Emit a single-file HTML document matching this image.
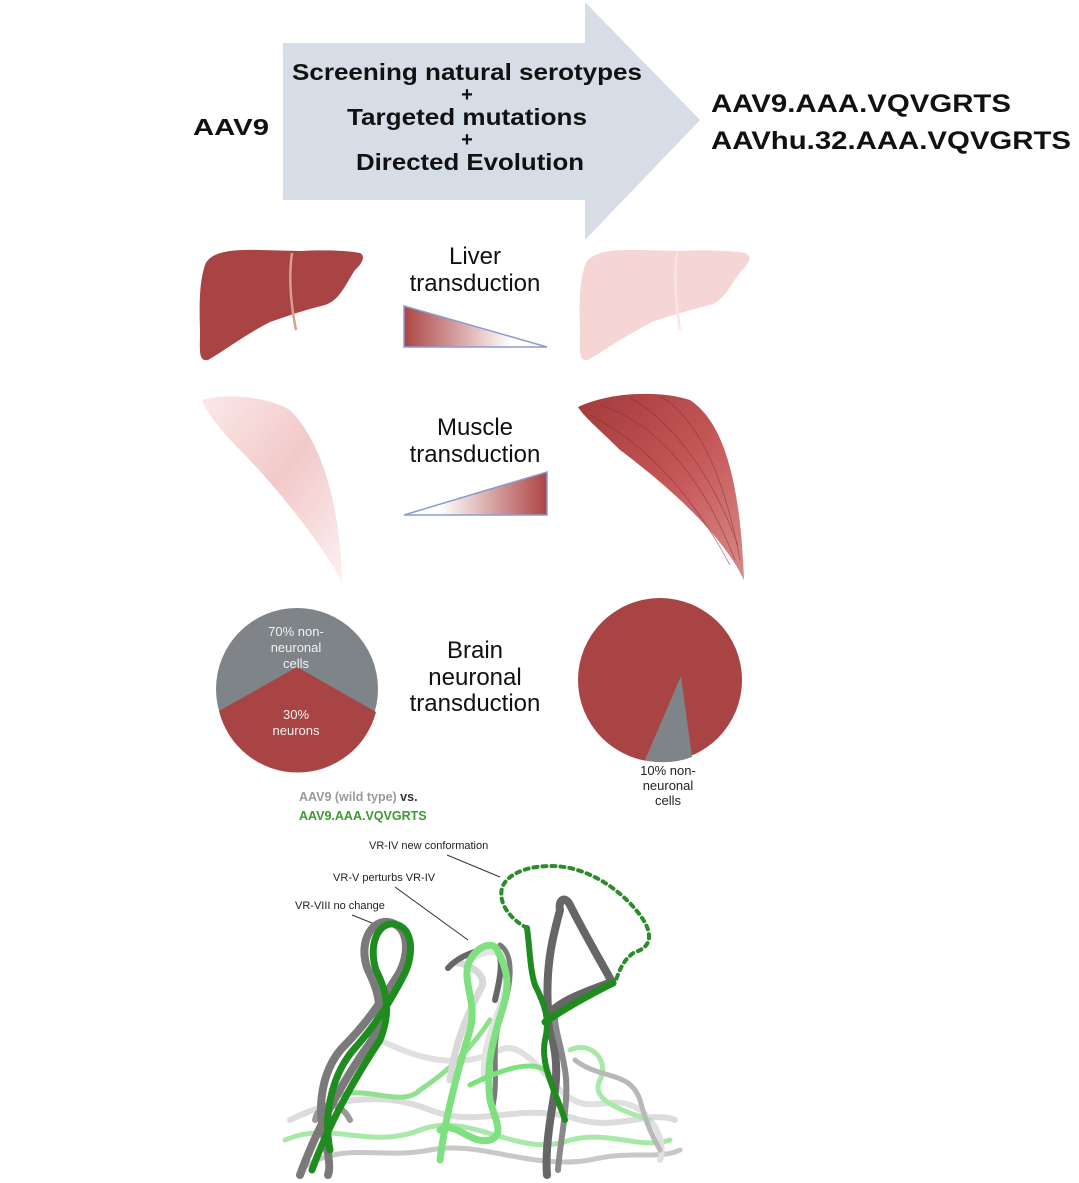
<!DOCTYPE html>
<html><head><meta charset="utf-8"><style>
html,body{margin:0;padding:0;background:#fff}
svg{display:block}
</style></head><body>
<svg width="1079" height="1183" viewBox="0 0 1079 1183" xmlns="http://www.w3.org/2000/svg" font-family="Liberation Sans, sans-serif">
<defs>
<linearGradient id="gl" x1="0" x2="1" y1="0" y2="0"><stop offset="0" stop-color="#ad4444"/><stop offset="0.75" stop-color="#fff"/></linearGradient>
<linearGradient id="gm" x1="1" x2="0" y1="0" y2="0"><stop offset="0" stop-color="#ad4444"/><stop offset="0.75" stop-color="#fff"/></linearGradient>
<linearGradient id="mp" x1="0" x2="1" y1="0" y2="1"><stop offset="0" stop-color="#fbe9e9"/><stop offset="0.5" stop-color="#f2c9c9"/><stop offset="1" stop-color="#fdf0f0"/></linearGradient>
<linearGradient id="md" x1="0" x2="1" y1="0" y2="1"><stop offset="0" stop-color="#a33a3a"/><stop offset="0.5" stop-color="#c45555"/><stop offset="1" stop-color="#d88a8a"/></linearGradient>
</defs>

<polygon points="283,43 585,43 585,2 700,120 585,240 585,200 283,200" fill="#d7dde7"/>
<g font-weight="bold" fill="#111" text-anchor="middle">
<text x="467" y="80" font-size="23" textLength="350" lengthAdjust="spacingAndGlyphs">Screening natural serotypes</text>
<text x="467" y="101" font-size="20">+</text>
<text x="467" y="125" font-size="23" textLength="240" lengthAdjust="spacingAndGlyphs">Targeted mutations</text>
<text x="467" y="146" font-size="20">+</text>
<text x="470" y="170" font-size="23" textLength="228" lengthAdjust="spacingAndGlyphs">Directed Evolution</text>
</g>
<text x="193" y="135" font-size="23" font-weight="bold" fill="#111" textLength="76" lengthAdjust="spacingAndGlyphs">AAV9</text>
<text x="711" y="112" font-size="25" font-weight="bold" fill="#111" textLength="300" lengthAdjust="spacingAndGlyphs">AAV9.AAA.VQVGRTS</text>
<text x="711" y="149" font-size="25" font-weight="bold" fill="#111" textLength="360" lengthAdjust="spacingAndGlyphs">AAVhu.32.AAA.VQVGRTS</text>

<!-- livers -->
<path d="M205,265 C210,252 230,249 260,250 L300,251 C320,250 345,250 360,253 C366,256 362,264 355,270 C345,285 340,300 325,305 C305,310 290,315 270,322 C245,335 225,350 208,360 C198,362 200,350 200,330 C199,300 200,280 205,265Z" fill="#a94444"/>
<path d="M292,253 C288,280 292,310 296,330" stroke="#d9a08a" stroke-width="2.5" fill="none"/>
<g transform="translate(380,0)">
<path d="M205,265 C210,252 230,249 260,250 L300,251 C320,250 345,250 365,253 C373,256 369,264 362,270 C350,285 345,300 330,305 C310,310 292,315 272,322 C247,335 225,350 208,360 C198,362 200,350 200,330 C199,300 200,280 205,265Z" fill="#f6d6d4"/>
<path d="M297,253 C293,280 297,310 300,330" stroke="#f9e6e4" stroke-width="2.5" fill="none"/>
</g>

<polygon points="404,306 547,347 404,347" fill="url(#gl)" stroke="#8b9bd0" stroke-width="1.5"/>
<g font-size="24" fill="#111" text-anchor="middle">
<text x="475" y="264">Liver</text>
<text x="475" y="291">transduction</text>
<text x="475" y="435">Muscle</text>
<text x="475" y="462">transduction</text>
<text x="475" y="658">Brain</text>
<text x="475" y="685">neuronal</text>
<text x="475" y="711">transduction</text>
</g>

<path d="M202,400 C230,392 270,398 290,410 C320,440 340,500 342,582 C320,540 270,480 240,450 C220,430 205,410 202,400 Z" fill="url(#mp)"/>
<path d="M578,407 C610,392 660,390 690,400 C720,420 740,470 744,580 C720,530 660,480 620,450 C600,430 585,418 578,407 Z" fill="url(#md)"/>
<g stroke="#8d2d2d" stroke-width="0.8" fill="none" opacity="0.6">
<path d="M600,405 C650,420 700,470 735,560"/><path d="M630,398 C670,420 710,470 738,545"/><path d="M660,396 C700,420 725,480 740,560"/><path d="M590,415 C640,440 690,490 730,565"/>
</g>
<polygon points="404,515 547,472 547,515" fill="url(#gm)" stroke="#8b9bd0" stroke-width="1.5"/>

<circle cx="297" cy="689" r="81" fill="#7e8488"/>
<path d="M219,711 L297,667 L376,712 A81,81 0 0 1 219,711 Z" fill="#a94444"/>
<g font-size="13" fill="#f2f2f2" text-anchor="middle">
<text x="296" y="636">70% non-</text><text x="296" y="652">neuronal</text><text x="296" y="668">cells</text>
<text x="296" y="719">30%</text><text x="296" y="735">neurons</text>
<text x="660" y="637">90%</text><text x="660" y="655">neurons</text>
</g>
<circle cx="660" cy="680" r="82" fill="#a94444"/>
<path d="M681,676 L692,757 A82,82 0 0 1 645,760 Z" fill="#7e8488"/>
<g font-size="13" fill="#222" text-anchor="middle">
<text x="668" y="775">10% non-</text><text x="668" y="790">neuronal</text><text x="668" y="805">cells</text>
</g>

<text x="299" y="801" font-size="12.5" font-weight="bold" fill="#9a9a9a">AAV9 (wild type) <tspan fill="#333">vs.</tspan></text>
<text x="299" y="820" font-size="12.5" font-weight="bold" fill="#3c9a30">AAV9.AAA.VQVGRTS</text>
<g font-size="11" fill="#222">
<text x="369" y="849">VR-IV new conformation</text>
<text x="333" y="881">VR-V perturbs VR-IV</text>
<text x="295" y="909">VR-VIII no change</text>
</g>
<g stroke="#333" stroke-width="1" fill="none">
<line x1="447" y1="855" x2="500" y2="877"/>
<line x1="395" y1="887" x2="468" y2="940"/>
<line x1="352" y1="915" x2="377" y2="925"/>
</g>

<g fill="none" stroke-linecap="round">
<path d="M290,1120 C330,1100 380,1090 430,1110 C480,1130 520,1100 580,1120 C620,1130 650,1110 675,1120" stroke="#dcdcdc" stroke-width="6"/>
<path d="M285,1140 C330,1120 370,1150 420,1130 C470,1110 520,1160 570,1140 C610,1130 640,1150 670,1140" stroke="#a8e8a8" stroke-width="5"/>
<path d="M300,1170 C340,1140 380,1160 430,1150 C480,1140 530,1170 590,1160 C630,1150 660,1160 680,1150" stroke="#c8c8c8" stroke-width="5"/>
<path d="M380,1040 C420,1060 460,1070 500,1050 C520,1040 540,1070 560,1090 C590,1120 610,1090 640,1110 C660,1125 665,1150 660,1160" stroke="#e0e0e0" stroke-width="6"/>
<path d="M330,1100 C360,1080 400,1110 420,1090 C450,1070 470,1050 490,1020" stroke="#90e090" stroke-width="5"/>
<path d="M570,1050 C590,1040 610,1060 600,1080 C590,1100 620,1110 650,1120" stroke="#a8e8a8" stroke-width="5"/>
<path d="M315,1120 C320,1100 340,1100 350,1120" stroke="#999" stroke-width="6"/>
</g>

<g fill="none" stroke-linecap="round" stroke-linejoin="round">
<path d="M300,1175 C320,1120 350,1070 372,1040 C385,1010 378,990 368,970 C358,945 370,920 388,922 C410,925 410,955 398,975 C385,995 370,1020 345,1045 C325,1065 315,1100 325,1140 C330,1160 330,1170 328,1175" stroke="#7a7a7a" stroke-width="8"/>
<path d="M312,1170 C330,1120 360,1070 380,1040 C392,1010 386,990 376,970 C368,945 378,922 394,924 C414,927 414,955 404,975 C392,998 378,1022 355,1048 C335,1070 322,1110 330,1150" stroke="#1f8c1f" stroke-width="7"/>
</g>
<g fill="none" stroke-linecap="round" stroke-linejoin="round">
<path d="M450,1080 C455,1040 470,1010 480,990 C490,975 470,965 455,962" stroke="#d8d8d8" stroke-width="7"/>
<path d="M448,968 C460,955 480,948 495,950 C505,955 500,980 495,1000" stroke="#666" stroke-width="6"/>
<path d="M470,960 C490,945 510,950 508,975 C505,1010 480,1040 485,1080" stroke="#e4e4e4" stroke-width="7"/>
<path d="M500,945 C515,955 512,985 500,1020 C490,1050 500,1080 492,1110" stroke="#7a7a7a" stroke-width="5"/>
<path d="M440,1160 C445,1120 455,1080 470,1030 C478,1000 460,980 470,960 C478,945 495,940 498,952 C505,965 510,980 505,1000 C495,1035 485,1060 490,1100 C495,1120 505,1135 490,1140 C470,1145 455,1120 440,1130" stroke="#7ee07e" stroke-width="7"/>
<path d="M470,1085 C500,1070 530,1060 545,1070" stroke="#7ee07e" stroke-width="5"/>
</g>
<g fill="none" stroke-linecap="round" stroke-linejoin="round">
<path d="M547,1175 C545,1150 550,1120 555,1090 C560,1050 548,1030 548,1015 C560,1000 590,990 612,982 C600,960 585,935 570,905 C565,895 558,900 560,910 C555,930 545,960 548,1010" stroke="#666" stroke-width="8"/>
<path d="M558,1170 C560,1140 570,1100 565,1070 C560,1040 555,1030 555,1018" stroke="#8a8a8a" stroke-width="6"/>
<path d="M527,928 C530,950 530,970 535,985 C545,1005 550,1020 545,1040 C540,1065 555,1090 565,1120" stroke="#1f8c1f" stroke-width="6"/>
<path d="M545,1022 C570,1005 595,992 613,983" stroke="#1f8c1f" stroke-width="7"/>
<path d="M575,1060 C600,1080 630,1070 640,1100 C648,1130 655,1140 660,1150" stroke="#b8b8b8" stroke-width="5"/>
<path d="M527,928 C512,920 498,905 502,888 C508,870 540,862 570,868 C600,875 625,895 640,915 C655,935 650,948 635,952 C625,958 620,968 616,980" stroke="#2c8c2c" stroke-width="4" stroke-dasharray="4,5"/>
</g>
</svg>
</body></html>
